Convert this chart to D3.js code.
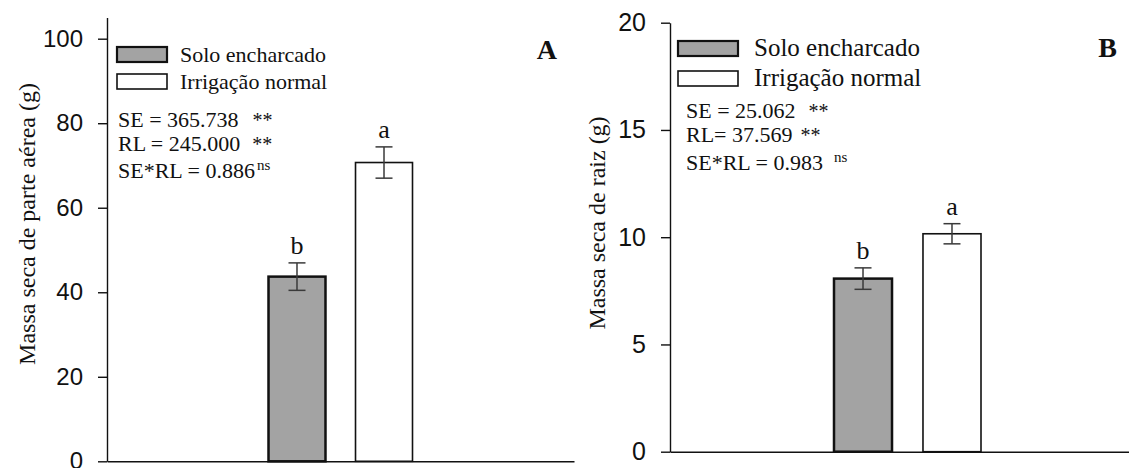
<!DOCTYPE html>
<html lang="pt">
<head>
  <meta charset="UTF-8">
  <title>Massa seca</title>
  <style>
    body { margin: 0; background: #fff; }
    .serif { font-family: "Liberation Serif", "Times New Roman", serif; fill: #111; }
    .tick text { font-family: "Liberation Sans", Arial, sans-serif; fill: #111; }
  </style>
</head>
<body>
  <svg id="chart" width="1129" height="468"></svg>
  <script src="https://cdn.jsdelivr.net/npm/d3@7"></script>
  <script>
    // dados
    var series = ['Solo encharcado', 'Irrigação normal'];
    var groups = ['g1'];
    var shootMass = [43.7, 70.7];
    var shootErr = [3.25, 3.7];
    var shootLetters = ['b', 'a'];
    var rootMass = [8.07, 10.16];
    var rootErr = [0.5, 0.47];
    var rootLetters = ['b', 'a'];
    var ticksA = [0, 20, 40, 60, 80, 100];
    var ticksB = [0, 5, 10, 15, 20];
    var statsA = [['SE = 365.738', '**', 14], ['RL = 245.000', '**', 12], ['SE*RL = 0.886', 'ns', 2]];
    var statsB = [['SE = 25.062', '**', 13], ['RL= 37.569', '**', 8], ['SE*RL = 0.983', 'ns', 11]];
    var fills = ['#a3a3a3', '#ffffff'];
    var strokeW = [2.5, 1.6];

    var svg = d3.select('#chart');

    function panel(opt) {
      var g = svg.append('g');
      var y = d3.scaleLinear().domain(opt.domain).range([opt.y0, opt.y0 - opt.domain[1] * opt.pxPerUnit]);
      var gx = d3.scalePoint().domain(groups).range([opt.x0, opt.x1]).padding(0.5);
      var x = d3.scaleBand().domain(series)
        .range([gx('g1') - opt.groupW / 2, gx('g1') + opt.groupW / 2])
        .paddingInner(opt.inner);

      // eixo y
      var ay = g.append('g')
        .attr('transform', 'translate(' + opt.x0 + ',0)')
        .call(d3.axisLeft(y).tickValues(opt.ticks).tickSize(9).tickSizeOuter(0).tickPadding(15));
      ay.selectAll('text').style('font-size', opt.tickFont + 'px');
      ay.selectAll('line, path').attr('stroke', '#111').attr('stroke-width', 1.4);

      // eixo x (so a linha)
      var ax = g.append('g')
        .attr('transform', 'translate(0,' + opt.y0 + ')')
        .call(d3.axisBottom(d3.scaleLinear().range([opt.x0, opt.x1])).tickValues([]).tickSizeOuter(0));
      ax.select('path').attr('stroke', '#111').attr('stroke-width', 1.4);

      // barras
      g.selectAll('rect.bar').data(opt.values).enter().append('rect')
        .attr('class', 'bar')
        .attr('x', function(d, i) { return x(series[i]); })
        .attr('width', x.bandwidth())
        .attr('y', function(d) { return y(d); })
        .attr('height', function(d) { return y(0) - y(d); })
        .attr('fill', function(d, i) { return fills[i]; })
        .attr('stroke', '#111')
        .attr('stroke-width', function(d, i) { return strokeW[i]; });

      // barras de erro
      opt.values.forEach(function(v, i) {
        var cx = x(series[i]) + x.bandwidth() / 2;
        var e = opt.errs[i];
        var eg = g.append('g').attr('stroke', '#3a3a3a').attr('stroke-width', 1.5);
        eg.append('line').attr('x1', cx).attr('x2', cx).attr('y1', y(v + e)).attr('y2', y(v - e));
        eg.append('line').attr('x1', cx - 8.5).attr('x2', cx + 8.5).attr('y1', y(v + e)).attr('y2', y(v + e));
        eg.append('line').attr('x1', cx - 8.5).attr('x2', cx + 8.5).attr('y1', y(v - e)).attr('y2', y(v - e));
        g.append('text').attr('class', 'serif')
          .attr('x', cx).attr('y', y(v + e) - 9)
          .attr('text-anchor', 'middle')
          .style('font-size', '26px')
          .text(opt.letters[i]);
      });

      // legenda
      series.forEach(function(s, i) {
        g.append('rect')
          .attr('x', opt.legX).attr('y', opt.legY + i * opt.legStep)
          .attr('width', opt.legW).attr('height', 15)
          .attr('fill', fills[i]).attr('stroke', '#111')
          .attr('stroke-width', i === 0 ? 2.2 : 1.6);
        g.append('text').attr('class', 'serif')
          .attr('x', opt.legTextX).attr('y', opt.legY + i * opt.legStep + 15)
          .style('font-size', opt.legFont + 'px')
          .text(s);
      });

      // estatisticas
      opt.stats.forEach(function(s, i) {
        var t = g.append('text').attr('class', 'serif')
          .attr('x', opt.statX).attr('y', opt.statY[i])
          .style('font-size', '22px')
          .text(s[0]);
        var w = t.node().getComputedTextLength();
        var sup = s[1] === 'ns';
        g.append('text').attr('class', 'serif')
          .attr('x', opt.statX + w + s[2])
          .attr('y', opt.statY[i] - (sup ? 8 : 0))
          .style('font-size', sup ? '15px' : '20px')
          .text(s[1]);
      });

      // letra do painel
      g.append('text').attr('class', 'serif')
        .attr('x', opt.tagX).attr('y', opt.tagY)
        .attr('text-anchor', 'end')
        .style('font-size', '28px').style('font-weight', 'bold')
        .text(opt.tag);

      // titulo do eixo y
      g.append('text').attr('class', 'serif')
        .attr('transform', 'translate(' + opt.labX + ',' + opt.labY + ') rotate(-90)')
        .attr('text-anchor', 'middle')
        .style('font-size', '24px')
        .text(opt.label);
    }

    panel({
      x0: 107, x1: 574, y0: 461.3, pxPerUnit: 4.226, domain: [0, 105], ticks: ticksA, tickFont: 24,
      groupW: 144, inner: 0.345, values: shootMass, errs: shootErr, letters: shootLetters,
      legX: 117, legY: 47, legStep: 27, legW: 50, legTextX: 180, legFont: 22,
      stats: statsA, statX: 118, statY: [127.3, 150.7, 178.3],
      tag: 'A', tagX: 557, tagY: 59,
      label: 'Massa seca de parte aérea (g)', labX: 35, labY: 224
    });

    panel({
      x0: 670, x1: 1145, y0: 451.7, pxPerUnit: 21.45, domain: [0, 20], ticks: ticksB, tickFont: 25,
      groupW: 147, inner: 0.348, values: rootMass, errs: rootErr, letters: rootLetters,
      legX: 678, legY: 41, legStep: 30, legW: 60, legTextX: 754, legFont: 25,
      stats: statsB, statX: 686, statY: [118.3, 141.7, 170],
      tag: 'B', tagX: 1117, tagY: 57,
      label: 'Massa seca de raiz (g)', labX: 605, labY: 223
    });
  </script>
</body>
</html>
